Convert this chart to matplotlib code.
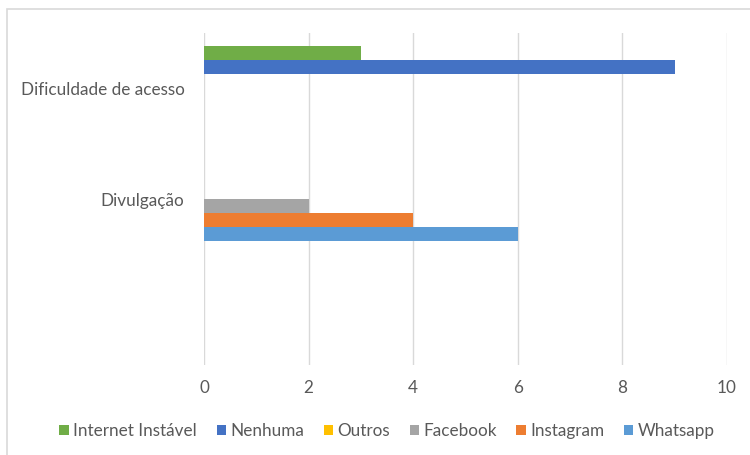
import numpy as np
import matplotlib
matplotlib.use("Agg")
from matplotlib import pyplot as plt
from matplotlib.patches import Rectangle

# data
categories = ["Dificuldade de acesso", "Divulgação", ""]
series_names = ["Internet Instável", "Nenhuma", "Outros", "Facebook", "Instagram", "Whatsapp"]
internet = [3, 0, 0]
nenhuma = [9, 0, 0]
outros = [0, 0, 0]
facebook = [0, 2, 0]
instagram = [0, 4, 0]
whatsapp = [0, 6, 0]
xticks = [0, 2, 4, 6, 8, 10]

colors = ["#70AD47", "#4472C4", "#FFC000", "#A5A5A5", "#ED7D31", "#5B9BD5"]
series = [internet, nenhuma, outros, facebook, instagram, whatsapp]

plt.rcParams['font.family'] = ['Lato', 'DejaVu Sans']
txt = "#595959"

fig = plt.figure(figsize=(7.5, 4.55), dpi=100)
ax = fig.add_axes([204/750, 1-365/455, (727-204)/750, (365-33)/455])

y = np.arange(len(categories))
h = 0.1265
for k in range(len(series)):
    ax.barh(y + (k - 2.5)*h, series[k], height=h, color=colors[k], label=series_names[k], zorder=3)

ax.set_ylim(len(categories)-0.5, -0.5)
ax.set_xlim(0, 10)
ax.set_xticks(xticks)
ax.set_yticks(y)
ax.set_yticklabels(categories)
ax.tick_params(axis='both', length=0, labelsize=12.3, labelcolor=txt)
ax.tick_params(axis='x', pad=11)
ax.tick_params(axis='y', pad=14)
ax.grid(axis='x', color="#D9D9D9", linewidth=1, zorder=0)
for s in ax.spines.values():
    s.set_visible(False)

leg = fig.legend(loc='center', bbox_to_anchor=(387/750, 1-431/455), ncol=6, frameon=False,
                 fontsize=12.3, handlelength=0.55, handleheight=0.55, handletextpad=0.25,
                 columnspacing=1.15, labelcolor=txt)

# chart area border
fig.patches.append(Rectangle((7/750, -0.1), 1.2, 1-9/455+0.1, transform=fig.transFigure,
                             fill=False, edgecolor="#D9D9D9", linewidth=1.2))

fig.savefig("out.png", dpi=100)
